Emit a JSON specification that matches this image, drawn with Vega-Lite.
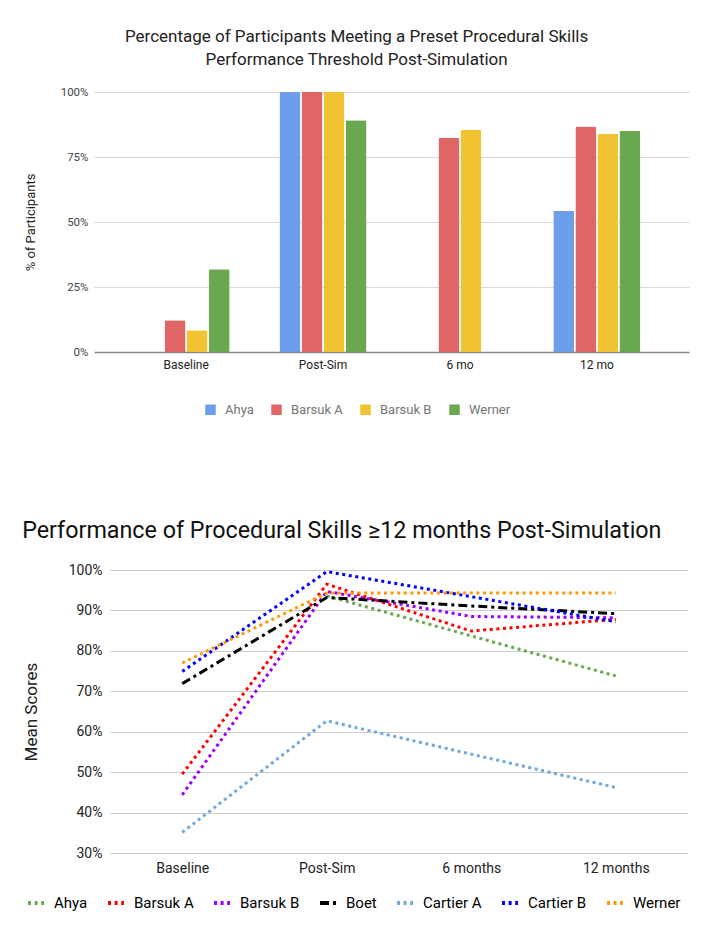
{
  "$schema": "https://vega.github.io/schema/vega-lite/v6.json",
  "background": "white",
  "padding": {"left": 22, "top": 28, "right": 5, "bottom": 0},
  "config": {
    "font": "Roboto",
    "view": {"stroke": null},
    "axis": {"labelFont": "Roboto", "titleFont": "Roboto"},
    "legend": {"labelFont": "Roboto"},
    "title": {"font": "Roboto"}
  },
  "spacing": 101,
  "resolve": {
    "scale": {"color": "independent", "strokeDash": "independent", "x": "independent", "y": "independent"},
    "legend": {"color": "independent", "strokeDash": "independent"}
  },
  "vconcat": [
    {
      "title": {
        "text": ["Percentage of Participants Meeting a Preset Procedural Skills", "Performance Threshold Post-Simulation"],
        "fontSize": 17, "fontWeight": "normal", "color": "#222",
        "anchor": "middle", "frame": "bounds", "lineHeight": 23, "offset": 17
      },
      "width": 595,
      "height": 260,
      "data": {"values": [
        {"time": "Baseline", "study": "Barsuk A", "value": 0.122},
        {"time": "Baseline", "study": "Barsuk B", "value": 0.084},
        {"time": "Baseline", "study": "Werner", "value": 0.318},
        {"time": "Post-Sim", "study": "Ahya", "value": 1.0},
        {"time": "Post-Sim", "study": "Barsuk A", "value": 1.0},
        {"time": "Post-Sim", "study": "Barsuk B", "value": 1.0},
        {"time": "Post-Sim", "study": "Werner", "value": 0.891},
        {"time": "6 mo", "study": "Barsuk A", "value": 0.823},
        {"time": "6 mo", "study": "Barsuk B", "value": 0.855},
        {"time": "12 mo", "study": "Ahya", "value": 0.542},
        {"time": "12 mo", "study": "Barsuk A", "value": 0.867},
        {"time": "12 mo", "study": "Barsuk B", "value": 0.839},
        {"time": "12 mo", "study": "Werner", "value": 0.85}
      ]},
      "mark": {"type": "bar", "cornerRadiusTopLeft": 1.5, "cornerRadiusTopRight": 1.5},
      "encoding": {
        "x": {
          "field": "time", "type": "nominal",
          "sort": ["Baseline", "Post-Sim", "6 mo", "12 mo"],
          "scale": {"paddingInner": 0.364, "paddingOuter": 0.355},
          "axis": {"title": null, "labelAngle": 0, "ticks": false, "domainColor": "#888", "domainWidth": 1.5,
                   "labelFontSize": 12, "labelColor": "#222", "labelPadding": 7}
        },
        "xOffset": {
          "field": "study", "type": "nominal",
          "scale": {"domain": ["Ahya", "Barsuk A", "Barsuk B", "Werner"], "paddingInner": 0.05}
        },
        "y": {
          "field": "value", "type": "quantitative",
          "scale": {"domain": [0, 1]},
          "axis": {"title": "% of Participants", "format": ".0%", "values": [0, 0.25, 0.5, 0.75, 1],
                   "domain": false, "ticks": false, "gridColor": "#d9d9d9",
                   "labelFontSize": 11.5, "labelColor": "#444", "labelPadding": 6,
                   "titleFontSize": 13, "titleFontWeight": "normal", "titleColor": "#222", "titlePadding": 23}
        },
        "color": {
          "field": "study", "type": "nominal",
          "scale": {"domain": ["Ahya", "Barsuk A", "Barsuk B", "Werner"],
                    "range": ["#6d9eeb", "#e06666", "#f1c232", "#6aa84f"]},
          "legend": {"title": null, "orient": "none", "direction": "horizontal", "legendX": 110, "legendY": 311,
                     "symbolType": "square", "symbolSize": 110, "symbolStrokeWidth": 0,
                     "labelFontSize": 13, "labelColor": "#757575", "labelOffset": 8, "columnPadding": 16}
        }
      }
    },
    {
      "bounds": "flush",
      "spacing": 10,
      "hconcat": [
        {
          "width": 6,
          "height": 10,
          "data": {"values": [{"spacer": 1}]},
          "mark": {"type": "point", "opacity": 0},
          "encoding": {}
        },
        {
          "title": {
            "text": "Performance of Procedural Skills ≥12 months Post-Simulation",
            "fontSize": 23.3, "fontWeight": "normal", "color": "#111",
            "anchor": "start", "frame": "bounds", "offset": 20
          },
          "width": 578,
          "height": 283,
          "data": {"values": [
            {"series": "Ahya", "time": "Post-Sim", "value": 0.936},
            {"series": "Ahya", "time": "12 months", "value": 0.738},
            {"series": "Barsuk A", "time": "Baseline", "value": 0.495},
            {"series": "Barsuk A", "time": "Post-Sim", "value": 0.965},
            {"series": "Barsuk A", "time": "6 months", "value": 0.849},
            {"series": "Barsuk A", "time": "12 months", "value": 0.878},
            {"series": "Barsuk B", "time": "Baseline", "value": 0.444},
            {"series": "Barsuk B", "time": "Post-Sim", "value": 0.947},
            {"series": "Barsuk B", "time": "6 months", "value": 0.885},
            {"series": "Barsuk B", "time": "12 months", "value": 0.882},
            {"series": "Boet", "time": "Baseline", "value": 0.719},
            {"series": "Boet", "time": "Post-Sim", "value": 0.932},
            {"series": "Boet", "time": "6 months", "value": 0.911},
            {"series": "Boet", "time": "12 months", "value": 0.892},
            {"series": "Cartier A", "time": "Baseline", "value": 0.351},
            {"series": "Cartier A", "time": "Post-Sim", "value": 0.627},
            {"series": "Cartier A", "time": "12 months", "value": 0.462},
            {"series": "Cartier B", "time": "Baseline", "value": 0.749},
            {"series": "Cartier B", "time": "Post-Sim", "value": 0.996},
            {"series": "Cartier B", "time": "12 months", "value": 0.872},
            {"series": "Werner", "time": "Baseline", "value": 0.77},
            {"series": "Werner", "time": "Post-Sim", "value": 0.943},
            {"series": "Werner", "time": "6 months", "value": 0.943},
            {"series": "Werner", "time": "12 months", "value": 0.943}
          ]},
          "mark": {"type": "line", "strokeWidth": 3, "strokeCap": "butt"},
          "encoding": {
            "x": {
              "field": "time", "type": "ordinal",
              "sort": ["Baseline", "Post-Sim", "6 months", "12 months"],
              "scale": {"type": "point", "padding": 0.5},
              "axis": {"title": null, "labelAngle": 0, "domain": false, "ticks": false,
                       "labelFontSize": 14, "labelColor": "#222", "labelPadding": 8}
            },
            "y": {
              "field": "value", "type": "quantitative",
              "scale": {"domain": [0.3, 1], "nice": false, "zero": false},
              "axis": {"title": "Mean Scores", "format": ".0%", "values": [0.3, 0.4, 0.5, 0.6, 0.7, 0.8, 0.9, 1],
                       "domain": false, "ticks": false, "gridColor": "#cccccc",
                       "labelFontSize": 14, "labelColor": "#222", "labelPadding": 8,
                       "titleFontSize": 17, "titleFontWeight": "normal", "titleColor": "#222", "titlePadding": 28}
            },
            "color": {
              "field": "series", "type": "nominal",
              "scale": {"domain": ["Ahya", "Barsuk A", "Barsuk B", "Boet", "Cartier A", "Cartier B", "Werner"],
                        "range": ["#6aa84f", "#ff0000", "#9900ff", "#000000", "#6fa8dc", "#0000ff", "#ff9900"]},
              "legend": {"title": null, "orient": "none", "direction": "horizontal", "legendX": -68, "legendY": 323,
                         "symbolType": "stroke", "symbolSize": 256, "symbolStrokeWidth": 4,
                         "labelFontSize": 15, "labelColor": "#000", "labelOffset": 8, "columnPadding": 12}
            },
            "strokeDash": {
              "field": "series", "type": "nominal",
              "scale": {"domain": ["Ahya", "Barsuk A", "Barsuk B", "Boet", "Cartier A", "Cartier B", "Werner"],
                        "range": [[3, 3.6], [3, 3.6], [3, 3.6], [9, 4, 3, 4], [3, 3.6], [3, 3.6], [3, 3.6]]},
              "legend": {"title": null, "orient": "none", "direction": "horizontal", "legendX": -68, "legendY": 323,
                         "symbolType": "stroke", "symbolSize": 256, "symbolStrokeWidth": 4,
                         "labelFontSize": 15, "labelColor": "#000", "labelOffset": 8, "columnPadding": 12}
            },
            "order": {"value": null}
          }
        }
      ]
    }
  ]
}
